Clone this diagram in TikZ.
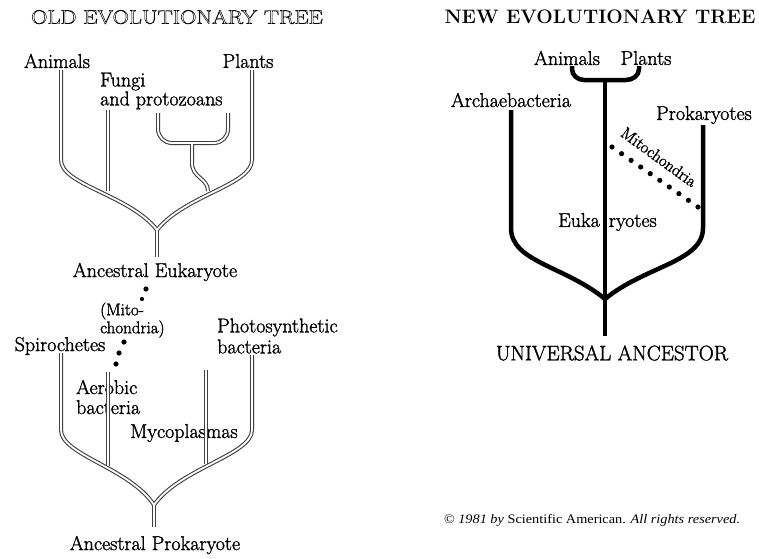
\documentclass[tikz,border=0pt]{standalone}
\usepackage{fontspec}
\newfontfamily\copyfont{Liberation Serif}
\usetikzlibrary{calc}
\newcommand{\outlined}[1]{\special{pdf:code 1 Tr 0.45 w}#1\special{pdf:code 0 Tr}}
\newcommand{\heavy}{\special{pdf:code 2 Tr 0.3 w}}
\newcommand{\plain}{\special{pdf:code 0 Tr}}
\tikzset{
  lbl/.style={inner sep=0pt, font=\fontsize{20}{20}\selectfont\heavy},
  lblstack/.style={lbl, align=left},
  lblsmall/.style={inner sep=0pt, align=left, font=\fontsize{17}{16.5}\selectfont\heavy},
  headline/.style={inner sep=0pt, font=\fontsize{19.5}{20}\selectfont\plain},
  trunkout/.style={line width=4pt, draw=black!75},
  trunkin/.style={line width=1.8pt, draw=white},
  newbranch/.style={line width=4.5pt, line join=round},
  mitodot/.style={fill=black},
}

\begin{document}
\begin{tikzpicture}[x=1pt, y=-1pt]
\useasboundingbox (0,0) rectangle (759,558);

% ---- old tree, upper half
\node[headline] (oldtitle) at (177,17) {\scalebox{1.16}[1]{\outlined{OLD EVOLUTIONARY TREE}}};
\node[lbl] (animals) at (57,61) {Animals};
\node[lblstack, anchor=west] (fungi) at (100,91) {Fungi\\[-1pt]and protozoans};
\node[lbl] (plants) at (248,61) {Plants};
\node[lbl] (eukanc) at (155,272) {Ancestral Eukaryote};

\coordinate (animals-tip) at (61,70);
\coordinate (fungi-tip) at (108,110);
\coordinate (proto-l) at (158,113);
\coordinate (proto-r) at (228,113);
\coordinate (proto-fork) at (192,143);
\coordinate (plants-tip) at (252,70);
\coordinate (euk-root) at (157,230);
\coordinate (euk-base) at (157,257);

\foreach \pass in {trunkout,trunkin}{
  \draw[\pass] (animals-tip) -- (61,160) .. controls (61,185) and (130,195) .. (euk-root);
  \draw[\pass] (plants-tip) -- (252,160) .. controls (252,185) and (185,195) .. (euk-root);
  \draw[\pass] (fungi-tip) -- (108,191);
  \draw[\pass] (proto-l) -- (158,129) to[out=-90,in=180] (172,143) -- (214,143) to[out=0,in=-90] (228,129) -- (proto-r);
  \draw[\pass] (proto-fork) -- (192,163) .. controls (192,178) and (208,178) .. (208,191);
  \draw[\pass] (euk-root) -- (euk-base);
}

% ---- mitochondria dots
\node[lblsmall, anchor=west] (mito) at (100,320) {(Mito-\\chondria)};
\fill[mitodot] (146,289) circle (2.6pt);
\fill[mitodot] (142,299) circle (2.1pt);
\fill[mitodot] (124,342) circle (2.6pt);
\fill[mitodot] (119,353) circle (2.6pt);
\fill[mitodot] (116,364) circle (2.6pt);

% ---- old tree, lower half
\node[lbl] (spiro) at (60,346) {Spirochetes};
\node[lblstack, anchor=west] (photo) at (217,336) {Photosynthetic\\[1pt]bacteria};
\node[lblstack, anchor=west] (aero) at (76,397) {Aerobic\\bacteria};
\node[lbl] (myco) at (184,433) {Mycoplasmas};
\node[lbl] (prokanc) at (155,545) {Ancestral Prokaryote};

\coordinate (spiro-tip) at (61,353);
\coordinate (aero-tip) at (108,372);
\coordinate (myco-tip) at (206,370);
\coordinate (photo-tip) at (252,355);
\coordinate (pro-root) at (154,505);
\coordinate (pro-base) at (154,527);

\foreach \pass in {trunkout,trunkin}{
  \draw[\pass] (spiro-tip) -- (61,430) .. controls (61,455) and (130,468) .. (pro-root);
  \draw[\pass] (photo-tip) -- (252,430) .. controls (252,455) and (180,468) .. (pro-root);
  \draw[\pass] (aero-tip) -- (108,466);
  \draw[\pass] (myco-tip) -- (206,464);
  \draw[\pass] (pro-root) -- (pro-base);
}

% ---- new tree
\node[headline, font=\fontsize{19.5}{20}\selectfont\bfseries\plain] (newtitle) at (600,17) {NEW EVOLUTIONARY TREE};
\node[lbl] (animals2) at (567,58) {Animals};
\node[lbl] (plants2) at (646,58) {Plants};
\node[lbl] (archae) at (511,100) {Archaebacteria};
\node[lbl] (prok) at (704,115) {Prokaryotes};
\node[lbl, anchor=west] (euk) at (558,222) {Euka\hspace{9pt}ryotes};
\node[lbl, font=\fontsize{21}{21}\selectfont\heavy] (univ) at (612,353) {UNIVERSAL ANCESTOR};

\coordinate (archae-tip) at (511,110);
\coordinate (prok-tip) at (703,125);
\coordinate (brace-l) at (572,66);
\coordinate (brace-r) at (639,66);
\coordinate (brace-mid) at (605,80);
\coordinate (univ-root) at (605,299);
\coordinate (univ-base) at (605,336);

\draw[newbranch] (brace-l) -- (572,69) to[out=-90,in=180] (584,80) -- (626,80) to[out=0,in=-90] (639,69) -- (brace-r);
\draw[newbranch] (brace-mid) -- (univ-base);
\draw[newbranch] (archae-tip) -- (511,228) .. controls (511,262) and (565,266) .. (univ-root);
\draw[newbranch] (prok-tip) -- (703,228) .. controls (703,262) and (645,266) .. (univ-root);

\coordinate (mito-a) at (612,147);
\coordinate (mito-b) at (698,207);
\foreach \i in {0,...,9}
  \fill[mitodot] ($(mito-a)!\i/9!(mito-b)$) circle (2.6pt);
\node[lbl, font=\fontsize{16.5}{17}\selectfont\heavy, rotate=-36] (mito2) at (659,157) {Mitochondria};

% ---- credit line
\node[inner sep=0pt, font=\copyfont\fontsize{13}{14}\selectfont\plain] (credit) at (592,520)
  {\scalebox{1.1}[1]{\textit{\textcopyright\ 1981 by} Scientific American. \textit{All rights reserved.}}};
\end{tikzpicture}
\end{document}
